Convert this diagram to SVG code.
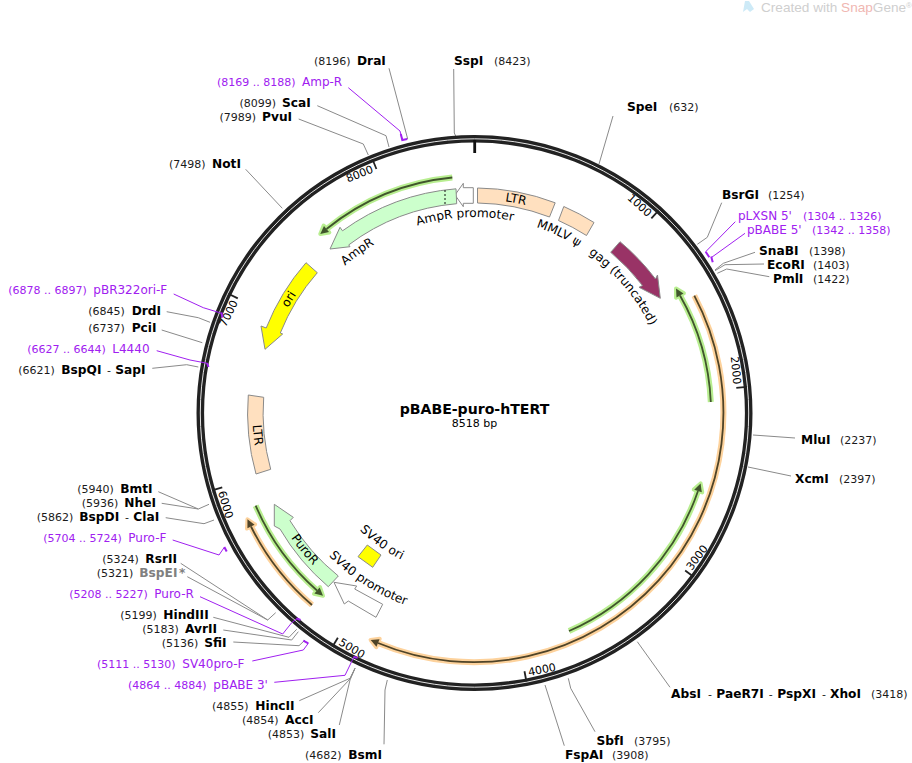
<svg xmlns="http://www.w3.org/2000/svg" width="912" height="763" viewBox="0 0 912 763">
<style>
text{font-family:"DejaVu Sans",Verdana,sans-serif;fill:#000}
.e{font-size:12.2px;font-weight:bold}
.n{font-size:11px;fill:#1a1a1a}
.p{font-size:12px;fill:#a020f0}
.q{font-size:11px;fill:#a020f0}
.g{fill:#808080}
.t{font-size:11px}
.f{font-size:12.2px}
.wm{font-family:"Liberation Sans",Arial,sans-serif;font-size:13.6px;fill:#cfcfcf}
.c{fill:none;stroke:#8a8a8a;stroke-width:1}
.v{fill:none;stroke:#a020f0;stroke-width:1}
.vb{fill:none;stroke:#a020f0;stroke-width:2}
.b{stroke:#8a8a8a;stroke-width:1}
.hg{fill:none;stroke:#b8ee90;stroke-width:6;marker-end:url(#mhg)}
.lg{fill:none;stroke:#40552c;stroke-width:1.8;marker-end:url(#mlg)}
.ho{fill:none;stroke:#fdd29c;stroke-width:6;marker-end:url(#mho)}
.lo{fill:none;stroke:#4f4428;stroke-width:1.8;marker-end:url(#mlo)}
</style>
<defs>
<marker id="mhg" markerUnits="userSpaceOnUse" markerWidth="24" markerHeight="24" refX="6" refY="12" orient="auto" overflow="visible"><path d="M6 7.5L14 12L6 16.5Z" fill="#b8ee90" stroke="#b8ee90" stroke-width="4" stroke-linejoin="round"/></marker>
<marker id="mlg" markerUnits="userSpaceOnUse" markerWidth="24" markerHeight="24" refX="6" refY="12" orient="auto" overflow="visible"><path d="M6 8L14 12L6 16Z" fill="#40552c"/></marker>
<marker id="mho" markerUnits="userSpaceOnUse" markerWidth="24" markerHeight="24" refX="6" refY="12" orient="auto" overflow="visible"><path d="M6 7.5L14 12L6 16.5Z" fill="#fdd29c" stroke="#fdd29c" stroke-width="4" stroke-linejoin="round"/></marker>
<marker id="mlo" markerUnits="userSpaceOnUse" markerWidth="24" markerHeight="24" refX="6" refY="12" orient="auto" overflow="visible"><path d="M6 8L14 12L6 16Z" fill="#4f4428"/></marker>
<path id="cw196" d="M304.76 315A196 196 0 0 1 644.24 315"/>
<path id="cw214" d="M289.17 306A214 214 0 0 1 659.83 306"/>
<path id="ccw204" d="M297.83 515A204 204 0 0 0 651.17 515"/>
<path id="ccw164" d="M332.47 495A164 164 0 0 0 616.53 495"/>
<path id="ccw222" d="M282.25 524A222 222 0 0 0 666.75 524"/>
</defs>
<g id="watermark">
<path d="M745 1L749 1L754 9L750 12L747 9L743 12Z" fill="#cdeaf7"/>
<text class="wm" x="761" y="12">Created with <tspan fill="#f0b7b2">Snap</tspan>Gene<tspan font-size="8" dy="-4">®</tspan></text>
</g>
<g id="connectors">
<polyline class="c" points="453.7,69 454.3,133 455.7,136"/>
<polyline class="c" points="389,68.3 407.7,139"/>
<polyline class="c" points="317.3,105.7 386,135.7 389,147"/>
<polyline class="c" points="298.7,119 363.3,144 368.3,155"/>
<polyline class="c" points="245.7,169.3 282.3,208.3"/>
<polyline class="c" points="613,116 599,164"/>
<polyline class="c" points="721.7,202.7 707.3,237.3 697.3,244.3"/>
<polyline class="c" points="755,252.3 723.3,263.3 715,270"/>
<polyline class="c" points="764,264 725,264.7 715,270.7"/>
<polyline class="c" points="769.3,276.7 726.7,269 717.3,273.3"/>
<polyline class="c" points="795,438 753,435"/>
<polyline class="c" points="791,476 748,467"/>
<polyline class="c" points="670,687.3 637.3,641.7"/>
<polyline class="c" points="595,731.7 570.7,688.3 568.3,678.3"/>
<polyline class="c" points="564.3,745.7 545,685"/>
<polyline class="c" points="384,744.3 385,690 387.3,680"/>
<polyline class="c" points="339.3,725 350,680 355,668.3"/>
<polyline class="c" points="318.3,712.7 350,679 355,668.3"/>
<polyline class="c" points="299.3,700.7 350,678.3 355,668.3"/>
<polyline class="c" points="233.3,642 299,645.7 305,640"/>
<polyline class="c" points="223.3,630 291.7,640 298.3,631.7"/>
<polyline class="c" points="213.3,617.3 289,637.3 296.7,629.3"/>
<polyline class="c" points="180.7,563.3 267.7,620 275.7,612.7"/>
<polyline class="c" points="187.3,576.7 267.7,620"/>
<polyline class="c" points="165.7,517.7 204,523.7 214,520"/>
<polyline class="c" points="161.7,503.3 198.3,509 209,504.3"/>
<polyline class="c" points="158.3,491.7 198.3,509"/>
<polyline class="c" points="152.3,368.3 186.7,364.7 198.3,367"/>
<polyline class="c" points="161.7,330 202.3,342.7"/>
<polyline class="c" points="166.7,311.7 198.3,317.7 210,322.3"/>
</g>
<g id="backbone">
<circle cx="474.5" cy="413" r="274.2" fill="none" stroke="#222" stroke-width="7.6"/>
<circle cx="474.5" cy="413" r="274.2" fill="none" stroke="#e4e4e4" stroke-width="1"/>
<rect x="473.3" y="140" width="2.8" height="13" fill="#111"/>
<g stroke="#222" stroke-width="1.8">
<line x1="474.5" y1="139.5" x2="474.5" y2="150" transform="rotate(42.26 474.5 413)"/>
<line x1="474.5" y1="139.5" x2="474.5" y2="150" transform="rotate(84.52 474.5 413)"/>
<line x1="474.5" y1="139.5" x2="474.5" y2="150" transform="rotate(126.78 474.5 413)"/>
<line x1="474.5" y1="139.5" x2="474.5" y2="150" transform="rotate(169.05 474.5 413)"/>
<line x1="474.5" y1="139.5" x2="474.5" y2="150" transform="rotate(211.3 474.5 413)"/>
<line x1="474.5" y1="139.5" x2="474.5" y2="150" transform="rotate(253.57 474.5 413)"/>
<line x1="474.5" y1="139.5" x2="474.5" y2="150" transform="rotate(295.84 474.5 413)"/>
<line x1="474.5" y1="139.5" x2="474.5" y2="150" transform="rotate(338.1 474.5 413)"/>
</g>
<text class="t" x="471" y="152" text-anchor="end" transform="rotate(42.26 474.5 413)">1000</text>
<text class="t" x="471" y="152.5" text-anchor="end" transform="rotate(84.52 474.5 413)">2000</text>
<text class="t" x="478" y="681.5" transform="rotate(-53.22 474.5 413)">3000</text>
<text class="t" x="478" y="681.5" transform="rotate(-10.95 474.5 413)">4000</text>
<text class="t" x="478" y="681.5" transform="rotate(31.3 474.5 413)">5000</text>
<text class="t" x="478" y="681.5" transform="rotate(73.57 474.5 413)">6000</text>
<text class="t" x="471" y="152" text-anchor="end" transform="rotate(295.84 474.5 413)">7000</text>
<text class="t" x="471" y="152" text-anchor="end" transform="rotate(338.1 474.5 413)">8000</text>
</g>
<g id="primer-connectors">
<polyline class="v" points="348.3,87.7 400,131 402.3,140"/><polyline class="vb" points="400.8,134 402.3,140 407.3,139"/>
<polyline class="v" points="735.3,221.7 705.7,251.7"/><polyline class="vb" points="705.7,251.7 709.3,257.3"/>
<polyline class="v" points="745,233.3 711.7,257.3"/><polyline class="vb" points="711.2,256.5 712.7,262.3"/>
<polyline class="v" points="274.3,682.3 345,675.3 350,665 353.3,658"/><polyline class="vb" points="353.3,657 357.7,657.8"/>
<polyline class="v" points="252.3,661 303.3,650 308.3,643.3"/><polyline class="vb" points="308.3,643.3 303.3,640.7"/>
<polyline class="v" points="200,596.7 282.7,634 291.7,622.7 297.3,618.3"/><polyline class="vb" points="296.5,618.3 300.5,620"/>
<polyline class="v" points="172.7,540 219,555 224.3,547.3"/><polyline class="vb" points="224.3,547 226.7,551.5"/>
<polyline class="v" points="156.7,350.7 190,360 207.3,363.3"/><polyline class="vb" points="207,363 208.5,367"/>
<polyline class="v" points="173.7,294 203.3,307.7 221.7,313.3"/><polyline class="vb" points="221.5,312.5 222.3,317.7"/>
</g>
<g id="primers">
<path class="hg" d="M452.3 177.5A236.5 236.5 0 0 0 326.5 229"/><path class="lg" d="M452.3 177.5A236.5 236.5 0 0 0 326.5 229"/>
<path class="hg" d="M710.8 402A236.5 236.5 0 0 0 680 295.5"/><path class="lg" d="M710.8 402A236.5 236.5 0 0 0 680 295.5"/>
<path class="hg" d="M569 631A237 237 0 0 0 698 491"/><path class="lg" d="M569 631A237 237 0 0 0 698 491"/>
<path class="hg" d="M255.7 505.7A237 237 0 0 0 317 590.5"/><path class="lg" d="M255.7 505.7A237 237 0 0 0 317 590.5"/>
<path class="ho" d="M694.3 295.7A249.5 249.5 0 0 1 378 643"/><path class="lo" d="M694.3 295.7A249.5 249.5 0 0 1 378 643"/>
<path class="ho" d="M312 605A250.5 250.5 0 0 1 251 526.5"/><path class="lo" d="M312 605A250.5 250.5 0 0 1 251 526.5"/>
</g>
<g id="feat-ltr-1"><path class="b" fill="#ffe0bf" d="M477.5 188A225 225 0 0 1 555.2 202.8L549.5 217A210 210 0 0 0 477.5 203Z"/><text class="f" text-anchor="middle" transform="rotate(11 474.5 413)"><textPath href="#cw214" startOffset="50%">LTR</textPath></text></g>
<g id="feat-mmlv"><path class="b" fill="#ffe0bf" d="M563.8 206.5A225 225 0 0 1 594 222.5L586.5 235.5A210 210 0 0 0 558.5 220.5Z"/><text class="f" text-anchor="middle" transform="rotate(25.2 474.5 413)"><textPath href="#cw196" startOffset="50%">MMLV ψ</textPath></text></g>
<g id="feat-gag"><path class="b" fill="#993366" d="M620 241.7A225 225 0 0 1 655.5 279L657.5 275L660.3 298.3L639 287.3L642.5 285.5A210 210 0 0 0 610.7 252.3Z"/><text class="f" text-anchor="middle" transform="rotate(49.6 474.5 413)"><textPath href="#cw196" startOffset="50%">gag (truncated)</textPath></text></g>
<g id="feat-amprpro"><path class="b" fill="#fff" d="M473.3 187.7L463.3 187.7L463.3 183.3L455 195L463.3 206.7L463.3 203.3L473.3 203.3Z"/><text class="f" text-anchor="middle" transform="rotate(-2.8 474.5 413)"><textPath href="#cw196" startOffset="50%">AmpR promoter</textPath></text></g>
<g id="feat-ampr"><path class="b" fill="#ccffcc" d="M456 188.8A225 225 0 0 0 342.5 230.8L340 227.3L330 249L350 246.7L348.7 244.9A210 210 0 0 1 456.7 203.7Z"/><line x1="445" y1="190" x2="445" y2="204" stroke="#111" stroke-width="1" stroke-dasharray="2 2"/><text class="f" text-anchor="middle" transform="rotate(-36 474.5 413)"><textPath href="#cw196" startOffset="50%">AmpR</textPath></text></g>
<g id="feat-ori"><path class="b" fill="#ffff00" d="M306 262.7A225 225 0 0 0 266.2 328L261 326L265 349.3L282.7 334L280.3 333A210 210 0 0 1 317.3 272.7Z"/><text class="f" text-anchor="middle" transform="rotate(-58.5 474.5 413)"><textPath href="#cw214" startOffset="50%">ori</textPath></text></g>
<g id="feat-ltr-2"><path class="b" fill="#ffe0bf" d="M248.3 395A225 225 0 0 0 256 474L270.7 469.3A210 210 0 0 1 263.7 397.3Z"/><text class="f" text-anchor="middle" transform="rotate(84.2 474.5 413)"><textPath href="#ccw222" startOffset="50%">LTR</textPath></text></g>
<g id="feat-puror"><path class="b" fill="#ccffcc" d="M338.3 576A212 212 0 0 1 290 520.7L293.3 517.3L274.3 504.3L274.3 526L280 529A226 226 0 0 0 328.3 586.7Z"/><text class="f" text-anchor="middle" transform="rotate(51.2 474.5 413)"><textPath href="#ccw222" startOffset="50%">PuroR</textPath></text></g>
<g id="feat-sv40pro"><path class="b" fill="#fff" d="M334 582.3L356.7 586L354.7 589L382.7 604.3L376 617.3L348.3 601L344.3 604Z"/><text class="f" text-anchor="middle" transform="rotate(32.7 474.5 413)"><textPath href="#ccw204" startOffset="50%">SV40 promoter</textPath></text></g>
<g id="feat-sv40ori"><path class="b" fill="#ffff00" d="M367.3 545L381 555L372.7 567.3L358 556.7Z"/><text class="f" text-anchor="middle" transform="rotate(35.5 474.5 413)"><textPath href="#ccw164" startOffset="50%">SV40 ori</textPath></text></g>
<g id="title"><text x="474.5" y="414" text-anchor="middle" font-size="14.1" font-weight="bold">pBABE-puro-hTERT</text><text x="474.5" y="427" text-anchor="middle" font-size="11">8518 bp</text></g>
<g id="site-DraI"><text class="n" x="314" y="65">(8196)</text><text class="e" x="357" y="65">DraI</text></g>
<g id="primer-AmpR"><text class="q" x="217" y="86">(8169 .. 8188)</text><text class="p" x="302" y="86">Amp-R</text></g>
<g id="site-ScaI"><text class="n" x="239.5" y="107">(8099)</text><text class="e" x="282" y="107">ScaI</text></g>
<g id="site-PvuI"><text class="n" x="219.5" y="121">(7989)</text><text class="e" x="262" y="121">PvuI</text></g>
<g id="site-NotI"><text class="n" x="169" y="168">(7498)</text><text class="e" x="212" y="168">NotI</text></g>
<g id="site-SspI"><text class="e" x="454" y="65">SspI</text><text class="n" x="494" y="65">(8423)</text></g>
<g id="site-SpeI"><text class="e" x="627" y="111">SpeI</text><text class="n" x="669" y="111">(632)</text></g>
<g id="site-BsrGI"><text class="e" x="722" y="199">BsrGI</text><text class="n" x="768" y="199">(1254)</text></g>
<g id="primer-pLXSN"><text class="p" x="738" y="220">pLXSN 5'</text><text class="q" x="803" y="220">(1304 .. 1326)</text></g>
<g id="primer-pBABE5"><text class="p" x="747" y="234">pBABE 5'</text><text class="q" x="812" y="234">(1342 .. 1358)</text></g>
<g id="site-SnaBI"><text class="e" x="759" y="255">SnaBI</text><text class="n" x="809" y="255">(1398)</text></g>
<g id="site-EcoRI"><text class="e" x="767" y="269">EcoRI</text><text class="n" x="813" y="269">(1403)</text></g>
<g id="site-PmlI"><text class="e" x="773" y="283">PmlI</text><text class="n" x="813" y="283">(1422)</text></g>
<g id="site-MluI"><text class="e" x="801" y="444">MluI</text><text class="n" x="840" y="444">(2237)</text></g>
<g id="site-XcmI"><text class="e" x="795" y="483">XcmI</text><text class="n" x="839" y="483">(2397)</text></g>
<g id="site-AbsI"><text class="e" x="671" y="698">AbsI</text><text class="n" x="708" y="698">-</text><text class="e" x="716.3" y="698">PaeR7I</text><text class="n" x="768.7" y="698">-</text><text class="e" x="777.3" y="698">PspXI</text><text class="n" x="822" y="698">-</text><text class="e" x="830" y="698">XhoI</text><text class="n" x="871" y="698">(3418)</text></g>
<g id="site-SbfI"><text class="e" x="596.5" y="745">SbfI</text><text class="n" x="634" y="745">(3795)</text></g>
<g id="site-FspAI"><text class="e" x="565" y="759">FspAI</text><text class="n" x="612" y="759">(3908)</text></g>
<g id="site-BsmI"><text class="n" x="305" y="759">(4682)</text><text class="e" x="348.3" y="759">BsmI</text></g>
<g id="site-SalI"><text class="n" x="267.7" y="738">(4853)</text><text class="e" x="310.3" y="738">SalI</text></g>
<g id="site-AccI"><text class="n" x="242" y="724">(4854)</text><text class="e" x="285" y="724">AccI</text></g>
<g id="site-HincII"><text class="n" x="212" y="710">(4855)</text><text class="e" x="255.3" y="710">HincII</text></g>
<g id="primer-pBABE3"><text class="q" x="128" y="689">(4864 .. 4884)</text><text class="p" x="213.3" y="689">pBABE 3'</text></g>
<g id="primer-SV40proF"><text class="q" x="97" y="668">(5111 .. 5130)</text><text class="p" x="182.3" y="668">SV40pro-F</text></g>
<g id="site-SfiI"><text class="n" x="161.7" y="647">(5136)</text><text class="e" x="204.3" y="647">SfiI</text></g>
<g id="site-AvrII"><text class="n" x="142.3" y="633">(5183)</text><text class="e" x="185" y="633">AvrII</text></g>
<g id="site-HindIII"><text class="n" x="120.3" y="619">(5199)</text><text class="e" x="163.3" y="619">HindIII</text></g>
<g id="primer-PuroR"><text class="q" x="69.3" y="598">(5208 .. 5227)</text><text class="p" x="154.3" y="598">Puro-R</text></g>
<g id="site-BspEI"><text class="n" x="96.7" y="577">(5321)</text><text class="e g" x="139.3" y="577">BspEI</text><text class="e g" x="179" y="577">*</text></g>
<g id="site-RsrII"><text class="n" x="102.3" y="563">(5324)</text><text class="e" x="145.3" y="563">RsrII</text></g>
<g id="primer-PuroF"><text class="q" x="43.3" y="542">(5704 .. 5724)</text><text class="p" x="128.3" y="542">Puro-F</text></g>
<g id="site-BspDI"><text class="n" x="36.7" y="521">(5862)</text><text class="e" x="79.3" y="521">BspDI</text><text class="n" x="125" y="521">-</text><text class="e" x="133.3" y="521">ClaI</text></g>
<g id="site-NheI"><text class="n" x="81.7" y="507">(5936)</text><text class="e" x="124.3" y="507">NheI</text></g>
<g id="site-BmtI"><text class="n" x="77.3" y="493">(5940)</text><text class="e" x="120.3" y="493">BmtI</text></g>
<g id="site-BspQI"><text class="n" x="18.3" y="374">(6621)</text><text class="e" x="61.3" y="374">BspQI</text><text class="n" x="107" y="374">-</text><text class="e" x="115.3" y="374">SapI</text></g>
<g id="primer-L4440"><text class="q" x="27.3" y="353">(6627 .. 6644)</text><text class="p" x="112.3" y="353">L4440</text></g>
<g id="site-PciI"><text class="n" x="88.3" y="332">(6737)</text><text class="e" x="131.7" y="332">PciI</text></g>
<g id="site-DrdI"><text class="n" x="88.3" y="315">(6845)</text><text class="e" x="131.7" y="315">DrdI</text></g>
<g id="primer-pBR322"><text class="q" x="8.3" y="294">(6878 .. 6897)</text><text class="p" x="93.3" y="294">pBR322ori-F</text></g>
</svg>
